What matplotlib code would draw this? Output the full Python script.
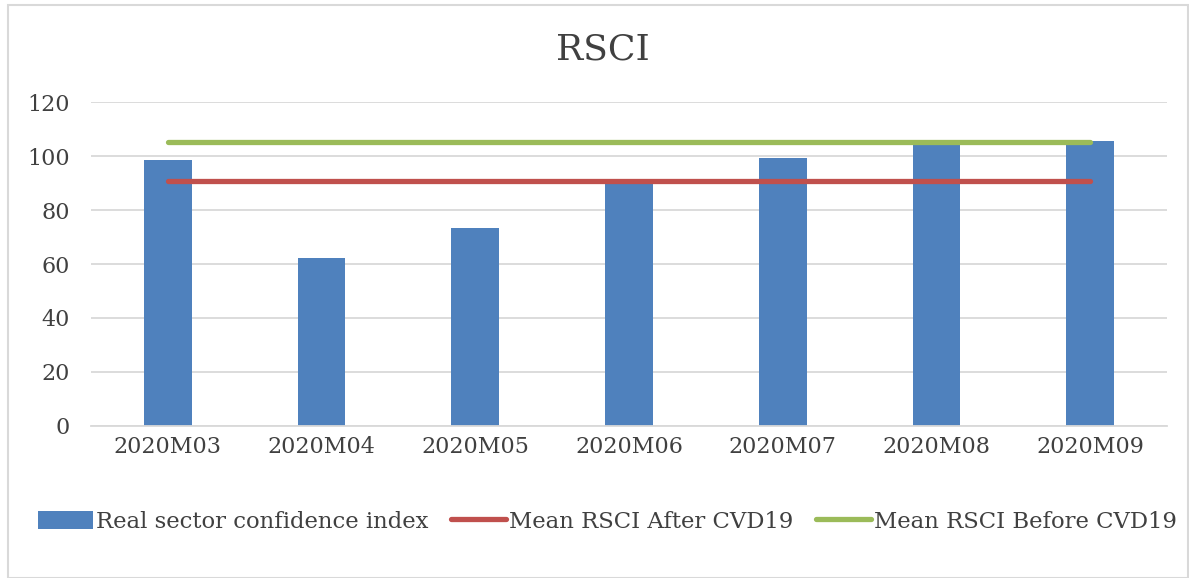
import matplotlib.pyplot as plt
from matplotlib.patches import Rectangle

months = ["2020M03", "2020M04", "2020M05", "2020M06", "2020M07", "2020M08", "2020M09"]
rsci = [98.4, 62.2, 73.4, 90.0, 99.3, 104.6, 105.6]
mean_after = [90.6] * len(months)
mean_before = [105.1] * len(months)

BLUE = "#4F81BD"
RED = "#C0504D"
GREEN = "#9BBB59"
TEXT = "#404040"

plt.rcParams["font.family"] = ["DejaVu Serif"]

fig = plt.figure(figsize=(11.89, 5.78), dpi=100)
fig.patches.append(Rectangle((0.007, 0.0), 0.992, 0.991, transform=fig.transFigure,
                             fill=False, edgecolor="#d9d9d9", linewidth=1.5))
ax = fig.add_axes([0.0765, 0.263, 0.905, 0.5605])

x = range(len(months))
bars = ax.bar(x, rsci, width=0.31, color=BLUE, label="Real sector confidence index", zorder=2)
l_after, = ax.plot(x, mean_after, color=RED, linewidth=3.8, solid_capstyle="round",
                   label="Mean RSCI After CVD19", zorder=3)
l_before, = ax.plot(x, mean_before, color=GREEN, linewidth=3.8, solid_capstyle="round",
                    label="Mean RSCI Before CVD19", zorder=3)

ax.set_xlim(-0.5, len(months) - 0.5)
ax.set_ylim(0, 120)
ax.set_yticks(range(0, 121, 20))
ax.set_xticks(list(x))
ax.set_xticklabels(months)
ax.grid(axis="y", color="#d9d9d9", linewidth=1.3, zorder=0)
ax.set_axisbelow(True)
for s in ["top", "right", "left"]:
    ax.spines[s].set_visible(False)
ax.spines["bottom"].set_color("#d9d9d9")
ax.spines["bottom"].set_linewidth(1.3)
ax.tick_params(axis="both", length=0, labelsize=16, labelcolor=TEXT)
ax.tick_params(axis="x", pad=7)
ax.tick_params(axis="y", pad=15)

fig.text(0.507, 0.915, "RSCI", ha="center", va="center", fontsize=26, color=TEXT)

leg = fig.legend([bars, l_after, l_before],
                 ["Real sector confidence index", "Mean RSCI After CVD19", "Mean RSCI Before CVD19"],
                 loc="center", bbox_to_anchor=(0.511, 0.097), ncol=3, frameon=False,
                 fontsize=16.4, handlelength=2.4, handleheight=0.85, handletextpad=0.15,
                 columnspacing=1.0)
for t in leg.get_texts():
    t.set_color(TEXT)

fig.savefig("out.png", dpi=100)
